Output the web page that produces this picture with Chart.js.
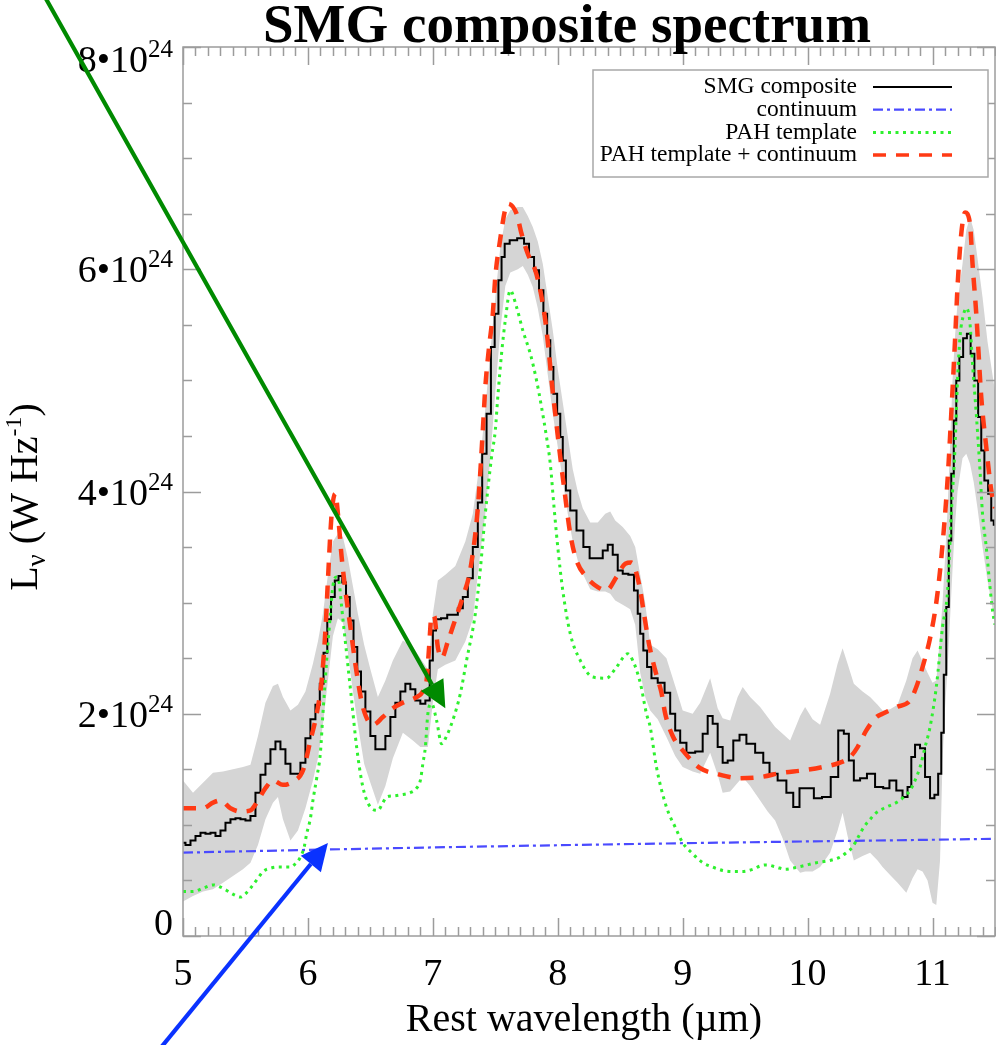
<!DOCTYPE html>
<html>
<head>
<meta charset="utf-8">
<title>SMG composite spectrum</title>
<script src="https://cdn.jsdelivr.net/npm/chart.js@4.4.1/dist/chart.umd.min.js"></script>
<style>
  html, body { margin: 0; padding: 0; background: #ffffff; }
  #wrap { width: 996px; height: 1045px; }
</style>
</head>
<body>
<div id="wrap"><canvas id="spec" width="996" height="1045"></canvas></div>
<script>
// Luminosities are in units of 10^24 W Hz^-1, wavelengths in micron.

// SMG composite spectrum
const smgWave = [5.00,5.04,5.08,5.12,5.16,5.20,5.24,5.28,5.32,5.36,5.40,5.44,5.48,5.52,5.56,5.60,5.64,5.68,5.72,5.76,5.80,5.84,5.88,5.92,5.96,6.00,6.04,6.08,6.11,6.14,6.17,6.20,6.23,6.26,6.29,6.32,6.35,6.38,6.41,6.44,6.48,6.52,6.56,6.60,6.64,6.68,6.72,6.76,6.80,6.84,6.88,6.92,6.96,6.99,7.01,7.04,7.09,7.14,7.18,7.22,7.26,7.30,7.34,7.38,7.41,7.45,7.48,7.51,7.54,7.56,7.59,7.64,7.71,7.75,7.79,7.83,7.87,7.90,7.93,7.95,7.98,8.01,8.03,8.05,8.08,8.12,8.18,8.23,8.28,8.34,8.38,8.42,8.46,8.50,8.54,8.59,8.63,8.65,8.67,8.70,8.73,8.77,8.83,8.88,8.92,8.96,9.00,9.06,9.14,9.18,9.22,9.26,9.30,9.34,9.38,9.43,9.48,9.54,9.62,9.67,9.72,9.80,9.86,9.91,9.96,10.02,10.08,10.15,10.22,10.27,10.31,10.35,10.39,10.45,10.50,10.58,10.63,10.68,10.74,10.78,10.82,10.84,10.88,10.92,10.96,11.00,11.03,11.06,11.08,11.10,11.12,11.14,11.16,11.18,11.20,11.23,11.26,11.29,11.32,11.35,11.38,11.40,11.43,11.46,11.48,11.50];
const smgLum = [0.84,0.82,0.86,0.90,0.93,0.92,0.93,0.90,0.95,1.02,1.05,1.06,1.05,1.04,1.08,1.29,1.45,1.55,1.68,1.75,1.68,1.55,1.46,1.46,1.56,1.78,1.95,2.08,2.27,2.55,2.85,3.05,3.20,3.24,3.18,3.05,2.84,2.60,2.38,2.20,2.02,1.80,1.68,1.68,1.80,1.97,2.10,2.20,2.27,2.22,2.12,2.09,2.12,2.48,2.75,2.85,2.86,2.89,2.89,2.95,3.05,3.22,3.50,3.90,4.34,4.70,5.30,5.60,5.90,6.11,6.23,6.26,6.28,6.23,6.11,5.99,5.81,5.60,5.36,5.12,4.88,4.70,4.49,4.28,4.01,3.83,3.65,3.50,3.40,3.40,3.47,3.52,3.43,3.29,3.26,3.25,3.11,2.90,2.72,2.57,2.42,2.32,2.28,2.19,2.00,1.85,1.74,1.65,1.66,1.82,1.98,1.91,1.70,1.56,1.58,1.76,1.81,1.73,1.65,1.56,1.46,1.40,1.29,1.16,1.33,1.33,1.24,1.25,1.43,1.85,1.82,1.58,1.40,1.42,1.46,1.34,1.33,1.40,1.31,1.25,1.34,1.61,1.72,1.69,1.43,1.24,1.27,1.46,1.83,2.35,2.96,3.56,4.16,4.64,5.00,5.21,5.38,5.42,5.24,5.00,4.67,4.37,4.10,3.98,3.74,3.70];

// 1-sigma range of the composite
const bandWave = [5.00,5.08,5.16,5.24,5.32,5.40,5.48,5.54,5.60,5.66,5.72,5.76,5.80,5.86,5.92,5.98,6.04,6.08,6.12,6.16,6.20,6.24,6.28,6.32,6.36,6.40,6.45,6.50,6.56,6.62,6.68,6.76,6.84,6.90,6.96,7.00,7.04,7.10,7.18,7.26,7.32,7.38,7.42,7.46,7.50,7.54,7.58,7.62,7.68,7.72,7.76,7.80,7.84,7.88,7.92,7.96,8.00,8.04,8.08,8.12,8.16,8.20,8.26,8.32,8.38,8.42,8.46,8.52,8.58,8.62,8.66,8.70,8.74,8.80,8.87,8.94,9.00,9.08,9.14,9.22,9.28,9.32,9.38,9.44,9.48,9.54,9.62,9.68,9.74,9.80,9.86,9.94,9.98,10.04,10.10,10.18,10.24,10.28,10.32,10.37,10.44,10.50,10.56,10.60,10.66,10.72,10.79,10.84,10.88,10.92,10.96,11.00,11.03,11.06,11.08,11.10,11.12,11.14,11.16,11.18,11.20,11.24,11.27,11.30,11.33,11.36,11.40,11.44,11.48,11.50];
const bandLow = [0.31,0.36,0.40,0.42,0.48,0.54,0.60,0.66,0.82,1.05,1.20,1.25,1.05,0.86,0.95,1.15,1.40,1.60,1.90,2.30,2.70,2.86,2.82,2.55,2.20,1.90,1.55,1.38,1.18,1.35,1.60,1.83,1.76,1.70,1.70,2.10,2.40,2.44,2.48,2.65,2.85,3.45,3.80,4.30,4.90,5.45,5.85,5.97,6.00,6.03,5.95,5.84,5.65,5.40,5.05,4.70,4.40,4.10,3.80,3.55,3.38,3.26,3.12,3.10,3.10,3.08,3.02,2.98,2.94,2.80,2.37,2.15,2.03,1.95,1.79,1.62,1.52,1.48,1.46,1.65,1.45,1.29,1.30,1.38,1.43,1.35,1.22,1.12,1.04,0.88,0.68,0.57,0.58,0.58,0.62,0.75,0.95,1.11,0.90,0.68,0.72,0.75,0.68,0.62,0.55,0.48,0.39,0.52,0.60,0.58,0.50,0.30,0.28,0.68,1.58,2.05,2.40,2.85,3.30,3.70,4.00,4.30,4.34,4.25,4.08,3.85,3.50,3.20,2.95,2.80];
const bandHigh = [1.40,1.29,1.38,1.47,1.48,1.50,1.52,1.54,1.80,2.10,2.25,2.27,2.15,2.03,2.08,2.20,2.45,2.65,2.90,3.25,3.55,3.62,3.59,3.40,3.15,2.90,2.62,2.40,2.15,2.30,2.48,2.66,2.60,2.50,2.40,2.90,3.20,3.25,3.33,3.55,3.80,4.30,4.75,5.25,5.75,6.20,6.45,6.53,6.56,6.56,6.48,6.38,6.25,6.05,5.75,5.45,5.10,4.80,4.50,4.20,4.00,3.85,3.72,3.72,3.80,3.82,3.74,3.68,3.60,3.50,3.25,3.00,2.62,2.58,2.50,2.25,2.03,2.00,2.10,2.32,2.05,1.96,1.94,2.15,2.24,2.15,2.06,1.97,1.88,1.82,1.76,1.98,2.06,1.95,1.90,2.18,2.45,2.59,2.45,2.27,2.20,2.15,2.08,2.03,2.04,2.08,2.30,2.50,2.57,2.47,2.37,2.28,2.30,2.70,3.00,3.40,3.85,4.40,5.00,5.40,5.70,6.05,6.35,6.47,6.35,6.10,5.75,5.35,5.05,4.90];

// continuum
const contWave = [5.0, 6.0, 7.0, 8.0, 9.0, 10.0, 11.0, 11.5];
const contLum = [0.750, 0.775, 0.797, 0.817, 0.835, 0.851, 0.866, 0.875];

// PAH template
const pahWave = [5.00,5.08,5.16,5.24,5.30,5.35,5.41,5.46,5.50,5.54,5.60,5.64,5.70,5.75,5.82,5.86,5.90,5.94,5.97,5.99,6.02,6.04,6.07,6.10,6.12,6.15,6.18,6.20,6.23,6.25,6.27,6.31,6.35,6.39,6.44,6.50,6.56,6.60,6.63,6.68,6.74,6.82,6.87,6.90,6.92,6.94,6.96,6.99,7.03,7.07,7.11,7.15,7.19,7.22,7.27,7.34,7.38,7.42,7.47,7.50,7.52,7.55,7.58,7.62,7.67,7.72,7.78,7.83,7.87,7.91,7.94,7.97,8.00,8.04,8.10,8.18,8.28,8.39,8.47,8.56,8.60,8.66,8.71,8.74,8.79,8.87,8.94,9.00,9.08,9.16,9.24,9.32,9.40,9.48,9.56,9.62,9.67,9.75,9.82,9.88,9.96,10.07,10.18,10.26,10.31,10.36,10.40,10.45,10.50,10.55,10.63,10.71,10.77,10.82,10.86,10.90,10.94,10.98,11.03,11.08,11.12,11.15,11.18,11.20,11.22,11.25,11.27,11.30,11.32,11.35,11.38,11.40,11.43,11.46,11.48,11.50];
const pahLum = [0.40,0.40,0.43,0.46,0.44,0.41,0.37,0.35,0.38,0.43,0.52,0.58,0.61,0.62,0.62,0.62,0.65,0.71,0.80,0.92,1.06,1.22,1.42,1.65,2.00,2.48,2.90,3.15,3.23,3.18,2.96,2.54,2.12,1.70,1.34,1.16,1.13,1.20,1.25,1.26,1.27,1.29,1.33,1.40,1.55,1.70,2.00,2.09,1.94,1.73,1.80,1.91,2.05,2.18,2.48,2.90,3.30,3.80,4.31,4.55,4.85,5.24,5.54,5.81,5.66,5.45,5.24,5.00,4.76,4.49,4.25,3.86,3.50,3.11,2.72,2.48,2.33,2.32,2.42,2.54,2.48,2.28,2.00,1.88,1.52,1.16,0.98,0.84,0.74,0.66,0.62,0.59,0.58,0.58,0.60,0.63,0.64,0.62,0.60,0.61,0.63,0.66,0.68,0.71,0.75,0.80,0.88,0.98,1.05,1.11,1.16,1.20,1.25,1.31,1.40,1.52,1.70,1.88,2.24,2.78,3.10,3.80,4.40,5.00,5.39,5.60,5.65,5.51,5.15,4.70,4.19,3.80,3.50,3.14,2.93,2.80];

// PAH template + continuum
const fitWave = [5.00,5.10,5.16,5.24,5.30,5.38,5.46,5.54,5.60,5.66,5.72,5.80,5.88,5.96,6.02,6.07,6.11,6.14,6.16,6.19,6.22,6.24,6.27,6.30,6.34,6.39,6.44,6.52,6.60,6.68,6.76,6.87,6.92,6.95,6.97,6.99,7.01,7.04,7.07,7.12,7.18,7.24,7.30,7.36,7.40,7.42,7.45,7.48,7.50,7.53,7.60,7.67,7.71,7.76,7.82,7.86,7.90,7.93,7.95,7.98,8.02,8.05,8.10,8.15,8.23,8.32,8.39,8.47,8.54,8.59,8.65,8.69,8.73,8.78,8.83,8.86,8.92,9.00,9.14,9.27,9.46,9.62,9.80,9.96,10.12,10.26,10.34,10.40,10.47,10.55,10.60,10.71,10.82,10.87,10.92,10.98,11.03,11.07,11.12,11.15,11.18,11.20,11.23,11.26,11.30,11.32,11.35,11.39,11.43,11.47,11.50];
const fitLum = [1.15,1.15,1.15,1.20,1.22,1.15,1.12,1.13,1.22,1.33,1.40,1.36,1.39,1.49,1.76,2.00,2.30,2.75,3.20,3.80,3.98,3.80,3.41,3.11,2.78,2.37,2.06,1.90,1.97,2.05,2.10,2.15,2.20,2.30,2.60,2.88,2.88,2.60,2.50,2.65,2.85,3.05,3.30,3.85,4.55,4.94,5.30,5.60,5.93,6.20,6.59,6.50,6.32,6.14,5.99,5.81,5.54,5.24,5.00,4.70,4.31,4.04,3.62,3.38,3.23,3.14,3.11,3.23,3.35,3.36,3.17,2.90,2.63,2.39,2.19,2.00,1.80,1.67,1.51,1.46,1.42,1.43,1.47,1.49,1.52,1.56,1.61,1.70,1.85,1.97,2.00,2.06,2.12,2.24,2.42,2.68,3.00,3.40,4.10,4.70,5.36,5.84,6.32,6.51,6.41,6.05,5.60,4.85,4.40,4.01,3.85];

// axis ticks
const xTickValues = [5, 6, 7, 8, 9, 10, 11];
const yTickValues = [0, 2, 4, 6, 8];
const yExponent = 24;

// pointer arrows (wavelength, luminosity) : tail -> head
const arrowTails = [[3.82, 8.60], [4.71, -1.16]];
const arrowHeads = [[7.10, 2.05], [6.16, 0.836]];
const arrowColors = ['#008a00', '#0a32ff'];

const SERIF = '"Liberation Serif", "Times New Roman", Times, serif';
const AXIS_COLOR = '#9c9c9c';

const toXY = (xs, ys) => xs.map((x, i) => ({ x: x, y: ys[i] }));

const datasets = [
  { label: 'SMG composite', data: toXY(smgWave, smgLum), borderColor: '#000000', borderWidth: 2,
    stepped: 'middle', pointRadius: 0, fill: false, order: 3, showInKey: true },
  { label: 'continuum', data: toXY(contWave, contLum), borderColor: '#4a4aff', borderWidth: 2.2,
    borderDash: [10, 4, 3, 4], pointRadius: 0, fill: false, order: 2, showInKey: true },
  { label: 'PAH template', data: toXY(pahWave, pahLum), borderColor: '#2ef02e', borderWidth: 3,
    borderDash: [3, 4.5], cubicInterpolationMode: 'monotone', pointRadius: 0, fill: false, order: 1, showInKey: true },
  { label: 'PAH template + continuum', data: toXY(fitWave, fitLum), borderColor: '#ff3a14', borderWidth: 4.5,
    borderDash: [13, 10], cubicInterpolationMode: 'monotone', pointRadius: 0, fill: false, order: 0, showInKey: true },
  { label: 'range low', data: toXY(bandWave, bandLow), borderWidth: 0, borderColor: 'rgba(0,0,0,0)',
    pointRadius: 0, fill: false, order: 5 },
  { label: 'range high', data: toXY(bandWave, bandHigh), borderWidth: 0, borderColor: 'rgba(0,0,0,0)',
    backgroundColor: '#d5d5d5', pointRadius: 0, fill: { target: 4 }, order: 4 }
];

function drawArrow(ctx, x0, y0, x1, y1, color) {
  const headLen = 27, headHalf = 13;
  const a = Math.atan2(y1 - y0, x1 - x0);
  const bx = x1 - headLen * Math.cos(a), by = y1 - headLen * Math.sin(a);
  ctx.strokeStyle = color; ctx.lineWidth = 4.2; ctx.lineCap = 'butt';
  ctx.setLineDash([]);
  ctx.beginPath(); ctx.moveTo(x0, y0); ctx.lineTo(bx, by); ctx.stroke();
  ctx.fillStyle = color;
  ctx.beginPath();
  ctx.moveTo(x1, y1);
  ctx.lineTo(bx + headHalf * Math.sin(a), by - headHalf * Math.cos(a));
  ctx.lineTo(bx - headHalf * Math.sin(a), by + headHalf * Math.cos(a));
  ctx.closePath(); ctx.fill();
}

// text pieces [text, size, raise] drawn left to right
function piecesWidth(ctx, pieces) {
  let w = 0;
  for (const p of pieces) { ctx.font = p[1] + 'px ' + SERIF; w += ctx.measureText(p[0]).width; }
  return w;
}
function drawPieces(ctx, pieces, x, base) {
  for (const p of pieces) {
    ctx.font = p[1] + 'px ' + SERIF;
    ctx.fillText(p[0], x, base - p[2]);
    x += ctx.measureText(p[0]).width;
  }
}

const decorations = {
  id: 'decorations',
  afterDatasetsDraw(chart) {
    const { ctx, chartArea: ca, scales } = chart;
    const xs = scales.x, ys = scales.y;
    ctx.save();
    ctx.strokeStyle = AXIS_COLOR;
    ctx.lineWidth = 1.5;
    ctx.setLineDash([]);
    ctx.beginPath();
    const kMin = Math.round(xs.min * 10), kMax = Math.round(xs.max * 10);
    for (let k = kMin; k <= kMax; k++) {
      const px = Math.round(xs.getPixelForValue(k / 10)) + 0.5;
      const len = (k % 10 === 0) ? 18 : 9;
      ctx.moveTo(px, ca.bottom); ctx.lineTo(px, ca.bottom - len);
      ctx.moveTo(px, ca.top); ctx.lineTo(px, ca.top + len);
    }
    for (let k = 0; k <= Math.round(ys.max * 2); k++) {
      const py = Math.round(ys.getPixelForValue(k / 2)) + 0.5;
      const len = (k % 4 === 0) ? 18 : 9;
      ctx.moveTo(ca.left, py); ctx.lineTo(ca.left + len, py);
      ctx.moveTo(ca.right, py); ctx.lineTo(ca.right - len, py);
    }
    ctx.stroke();
    ctx.strokeRect(ca.left, ca.top, ca.right - ca.left, ca.bottom - ca.top);
    ctx.restore();
  },
  afterDraw(chart) {
    const { ctx, chartArea: ca, scales } = chart;
    const xs = scales.x, ys = scales.y;
    ctx.save();
    ctx.fillStyle = '#000000';

    // title
    ctx.font = 'bold 55px ' + SERIF;
    ctx.textAlign = 'center'; ctx.textBaseline = 'alphabetic';
    ctx.fillText('SMG composite spectrum', 567, 42);

    // x tick labels
    ctx.font = '38px ' + SERIF;
    for (const v of xTickValues) {
      ctx.fillText(String(v), xs.getPixelForValue(v), ca.bottom + 49);
    }
    // x axis title
    ctx.font = '40px ' + SERIF;
    ctx.fillText('Rest wavelength (\u00b5m)', 584, 1031);

    // y tick labels, mantissa \u2022 10^exp
    ctx.textAlign = 'left';
    for (const v of yTickValues) {
      const py = ys.getPixelForValue(v);
      const base = Math.min(Math.max(py + 13, ca.top + 25), ca.bottom - 1);
      const pieces = v === 0 ? [['0', 38, 0]] : [[v + '\u202210', 38, 0], [String(yExponent), 25, 15]];
      const w = piecesWidth(ctx, pieces);
      drawPieces(ctx, pieces, ca.left - 10 - w, base);
    }

    // y axis title
    ctx.translate(37, 497);
    ctx.rotate(-Math.PI / 2);
    const yt = [['L', 40, 0], ['\u03bd', 27, -8], [' (W Hz', 40, 0], ['-1', 24, 16], [')', 40, 0]];
    drawPieces(ctx, yt, -piecesWidth(ctx, yt) / 2, 0);
    ctx.setTransform(1, 0, 0, 1, 0, 0);

    // key
    const box = { l: 593, t: 70, r: 988, b: 177 };
    ctx.fillStyle = '#ffffff';
    ctx.fillRect(box.l, box.t, box.r - box.l, box.b - box.t);
    ctx.strokeStyle = '#a8a8a8'; ctx.lineWidth = 1.5;
    ctx.strokeRect(box.l, box.t, box.r - box.l, box.b - box.t);
    ctx.font = '23.5px ' + SERIF;
    ctx.textAlign = 'right'; ctx.textBaseline = 'middle';
    let row = 0;
    chart.data.datasets.forEach(ds => {
      if (!ds.showInKey) return;
      const yy = 87 + row * 22.7;
      ctx.fillStyle = '#000000';
      ctx.fillText(ds.label, 857, yy);
      ctx.strokeStyle = ds.borderColor;
      ctx.lineWidth = Math.min(ds.borderWidth, 3.5);
      ctx.setLineDash(ds.borderDash || []);
      ctx.beginPath(); ctx.moveTo(873, yy); ctx.lineTo(952, yy); ctx.stroke();
      row++;
    });
    ctx.setLineDash([]);

    // arrows
    for (let i = 0; i < arrowTails.length; i++) {
      drawArrow(ctx,
        xs.getPixelForValue(arrowTails[i][0]), ys.getPixelForValue(arrowTails[i][1]),
        xs.getPixelForValue(arrowHeads[i][0]), ys.getPixelForValue(arrowHeads[i][1]),
        arrowColors[i]);
    }
    ctx.restore();
  }
};

new Chart(document.getElementById('spec'), {
  type: 'line',
  data: { datasets: datasets },
  options: {
    responsive: false,
    devicePixelRatio: 1,
    animation: false,
    layout: { padding: { top: 47, right: 1, left: 0, bottom: 0 } },
    plugins: { legend: { display: false }, tooltip: { enabled: false }, title: { display: false } },
    scales: {
      x: {
        type: 'linear', min: 5, max: 11.5,
        grid: { display: false }, border: { display: false },
        ticks: { display: false },
        afterFit: s => { s.height = 109; }
      },
      y: {
        type: 'linear', min: 0, max: 8,
        grid: { display: false }, border: { display: false },
        ticks: { display: false },
        afterFit: s => { s.width = 183; }
      }
    }
  },
  plugins: [decorations]
});
</script>
</body>
</html>
